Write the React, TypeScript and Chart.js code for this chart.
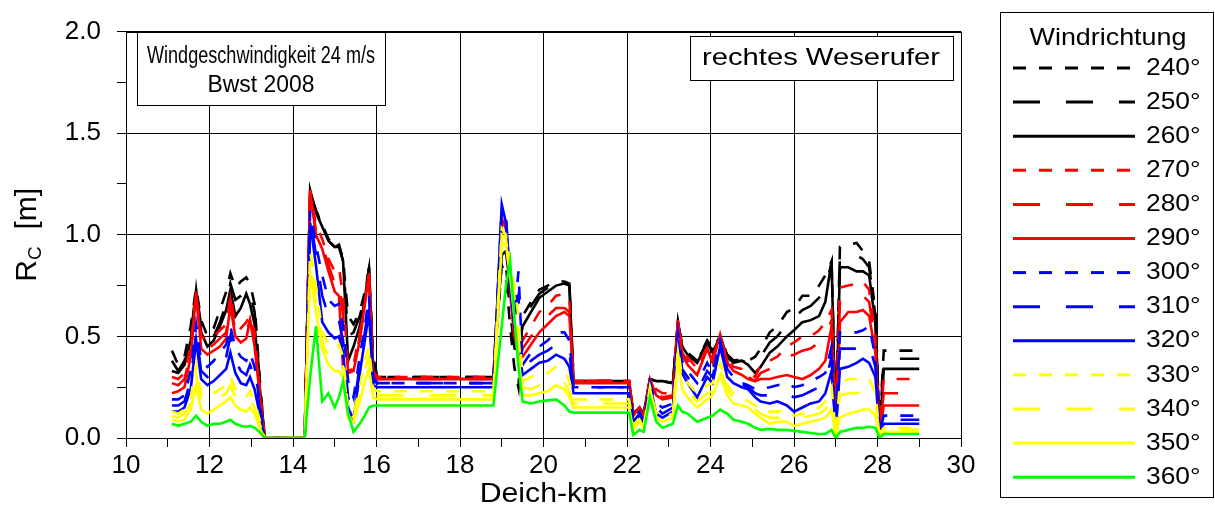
import React, { useEffect, useRef } from 'react';
import { Chart, registerables } from 'chart.js';

Chart.register(...registerables);

// ---- data ----
const km = [
  11.1, 11.25, 11.4, 11.55, 11.68, 11.8, 11.95, 12.1, 12.25, 12.4, 12.5, 12.62, 12.75, 12.88, 12.97, 13.08, 13.2, 13.32,
  14.28,
  14.41, 14.55, 14.7, 14.85, 15.0, 15.1, 15.2, 15.32, 15.45, 15.6, 15.72, 15.82, 15.92, 16.02,
  18.8,
  19.0, 19.1, 19.2, 19.3, 19.4, 19.5, 19.7, 19.9, 20.1, 20.3, 20.5, 20.62, 20.72,
  22.05,
  22.15, 22.3, 22.4, 22.55, 22.7, 22.85, 23.1, 23.22, 23.32, 23.45, 23.68, 23.92, 24.05, 24.23, 24.4, 24.55, 24.75, 24.9, 25.07,
  25.2, 25.42, 25.6, 25.83, 26.0, 26.2, 26.4, 26.6, 26.75, 26.9, 27.0, 27.1, 27.3, 27.5, 27.65, 27.8, 27.95, 28.05, 28.15, 29.0,
];

const rc240 = [
  0.43, 0.36, 0.40, 0.55, 0.74, 0.58, 0.50, 0.54, 0.63, 0.72, 0.81, 0.74, 0.77, 0.79, 0.76, 0.66, 0.30, 0,
  0,
  1.20, 1.12, 1.05, 0.98, 0.93, 0.95, 0.88, 0.60, 0.56, 0.62, 0.72, 0.83, 0.40, 0.30,
  0.30,
  0.85, 0.80, 0.55, 0.35, 0.25, 0.60, 0.67, 0.73, 0.75, 0.77, 0.77, 0.76, 0.28,
  0.28,
  0.12, 0.15, 0.12, 0.29, 0.28, 0.28, 0.27, 0.57, 0.46, 0.42, 0.38, 0.48, 0.44, 0.50, 0.41, 0.38, 0.39, 0.38, 0.40,
  0.44, 0.52, 0.55, 0.62, 0.64, 0.70, 0.70, 0.75, 0.80, 0.87, 0.05, 0.94, 0.95, 0.96, 0.92, 0.87, 0.62, 0.05, 0.43, 0.43,
];
const rc250 = [
  0.38, 0.33, 0.38, 0.50, 0.73, 0.55, 0.47, 0.50, 0.57, 0.66, 0.76, 0.68, 0.70, 0.74, 0.72, 0.62, 0.28, 0,
  0,
  1.21, 1.12, 1.04, 0.97, 0.94, 0.95, 0.87, 0.50, 0.52, 0.60, 0.70, 0.83, 0.36, 0.30,
  0.30,
  0.88, 0.85, 0.62, 0.45, 0.35, 0.58, 0.65, 0.71, 0.74, 0.76, 0.77, 0.76, 0.28,
  0.28,
  0.12, 0.15, 0.12, 0.29, 0.28, 0.28, 0.27, 0.57, 0.45, 0.42, 0.38, 0.47, 0.43, 0.50, 0.41, 0.38, 0.38, 0.37, 0.36,
  0.40, 0.47, 0.50, 0.56, 0.59, 0.63, 0.65, 0.69, 0.74, 0.86, 0.04, 0.90, 0.90, 0.90, 0.88, 0.84, 0.60, 0.04, 0.39, 0.39,
];
const rc260 = [
  0.33, 0.32, 0.36, 0.48, 0.73, 0.52, 0.45, 0.48, 0.55, 0.63, 0.73, 0.60, 0.64, 0.71, 0.66, 0.56, 0.26, 0,
  0,
  1.22, 1.11, 1.04, 0.97, 0.94, 0.94, 0.87, 0.38, 0.45, 0.55, 0.68, 0.84, 0.32, 0.29,
  0.29,
  0.90, 0.92, 0.75, 0.55, 0.44, 0.55, 0.62, 0.69, 0.72, 0.75, 0.76, 0.75, 0.28,
  0.28,
  0.12, 0.15, 0.12, 0.29, 0.28, 0.28, 0.27, 0.57, 0.45, 0.41, 0.37, 0.47, 0.42, 0.50, 0.40, 0.37, 0.38, 0.36, 0.32,
  0.35, 0.42, 0.45, 0.50, 0.53, 0.57, 0.58, 0.60, 0.67, 0.87, 0.01, 0.84, 0.84, 0.82, 0.82, 0.80, 0.56, 0.02, 0.34, 0.34,
];
const rc270 = [
  0.30, 0.29, 0.32, 0.45, 0.71, 0.50, 0.48, 0.50, 0.53, 0.56, 0.70, 0.56, 0.54, 0.57, 0.60, 0.52, 0.25, 0,
  0,
  1.21, 1.05, 0.98, 0.88, 0.82, 0.84, 0.70, 0.35, 0.36, 0.52, 0.66, 0.80, 0.33, 0.30,
  0.30,
  1.05, 1.00, 0.80, 0.55, 0.42, 0.48, 0.55, 0.62, 0.65, 0.70, 0.71, 0.68, 0.28,
  0.28,
  0.12, 0.15, 0.11, 0.29, 0.24, 0.22, 0.22, 0.58, 0.44, 0.40, 0.34, 0.45, 0.40, 0.50, 0.39, 0.35, 0.34, 0.32, 0.30,
  0.36, 0.38, 0.40, 0.45, 0.47, 0.50, 0.50, 0.53, 0.57, 0.63, 0.06, 0.74, 0.75, 0.76, 0.77, 0.73, 0.50, 0.05, 0.29, 0.29,
];
const rc280 = [
  0.27, 0.26, 0.29, 0.42, 0.70, 0.47, 0.44, 0.46, 0.49, 0.52, 0.68, 0.52, 0.50, 0.52, 0.58, 0.48, 0.24, 0,
  0,
  1.21, 1.02, 0.95, 0.85, 0.76, 0.78, 0.60, 0.33, 0.34, 0.50, 0.65, 0.80, 0.31, 0.29,
  0.29,
  1.06, 1.02, 0.75, 0.50, 0.40, 0.44, 0.50, 0.56, 0.60, 0.64, 0.64, 0.62, 0.28,
  0.28,
  0.11, 0.15, 0.10, 0.29, 0.22, 0.20, 0.21, 0.58, 0.42, 0.38, 0.32, 0.44, 0.38, 0.50, 0.38, 0.34, 0.32, 0.30, 0.28,
  0.32, 0.34, 0.35, 0.40, 0.41, 0.43, 0.44, 0.47, 0.50, 0.58, 0.05, 0.67, 0.68, 0.70, 0.70, 0.67, 0.46, 0.04, 0.22, 0.22,
];
const rc290 = [
  0.22, 0.23, 0.25, 0.40, 0.72, 0.44, 0.41, 0.43, 0.45, 0.49, 0.65, 0.50, 0.47, 0.49, 0.58, 0.45, 0.22, 0,
  0,
  1.22, 1.00, 0.93, 0.82, 0.72, 0.70, 0.34, 0.32, 0.33, 0.48, 0.66, 0.81, 0.30, 0.29,
  0.29,
  1.08, 1.03, 0.72, 0.50, 0.42, 0.40, 0.46, 0.52, 0.56, 0.60, 0.62, 0.60, 0.27,
  0.27,
  0.11, 0.15, 0.10, 0.29, 0.21, 0.19, 0.20, 0.58, 0.41, 0.36, 0.31, 0.44, 0.37, 0.51, 0.37, 0.33, 0.31, 0.29, 0.28,
  0.29, 0.29, 0.30, 0.31, 0.30, 0.29, 0.31, 0.34, 0.38, 0.55, 0.05, 0.57, 0.62, 0.62, 0.63, 0.60, 0.42, 0.03, 0.16, 0.16,
];
const rc300 = [
  0.19, 0.19, 0.21, 0.33, 0.56, 0.38, 0.35, 0.38, 0.42, 0.46, 0.55, 0.44, 0.40, 0.38, 0.42, 0.35, 0.18, 0,
  0,
  1.12, 0.95, 0.80, 0.68, 0.65, 0.66, 0.55, 0.28, 0.20, 0.40, 0.55, 0.70, 0.30, 0.27,
  0.27,
  1.12, 1.08, 0.80, 0.60, 0.82, 0.36, 0.42, 0.45, 0.48, 0.52, 0.52, 0.48, 0.25,
  0.25,
  0.09, 0.13, 0.08, 0.27, 0.17, 0.15, 0.17, 0.52, 0.38, 0.33, 0.27, 0.37, 0.32, 0.48, 0.34, 0.30, 0.27, 0.26, 0.24,
  0.24, 0.25, 0.26, 0.27, 0.25, 0.26, 0.28, 0.30, 0.32, 0.45, 0.04, 0.52, 0.52, 0.52, 0.53, 0.55, 0.40, 0.03, 0.11, 0.11,
];
const rc310 = [
  0.16, 0.16, 0.18, 0.28, 0.52, 0.33, 0.30, 0.32, 0.36, 0.40, 0.50, 0.38, 0.33, 0.31, 0.36, 0.30, 0.15, 0,
  0,
  1.09, 0.90, 0.70, 0.60, 0.56, 0.58, 0.48, 0.20, 0.14, 0.36, 0.52, 0.66, 0.28, 0.27,
  0.27,
  1.13, 1.08, 0.78, 0.58, 0.70, 0.33, 0.38, 0.41, 0.43, 0.46, 0.45, 0.42, 0.25,
  0.25,
  0.08, 0.12, 0.07, 0.27, 0.15, 0.12, 0.15, 0.50, 0.34, 0.30, 0.23, 0.33, 0.30, 0.47, 0.32, 0.29, 0.26, 0.25, 0.22,
  0.21, 0.21, 0.22, 0.22, 0.20, 0.21, 0.23, 0.25, 0.27, 0.40, 0.03, 0.44, 0.44, 0.44, 0.45, 0.46, 0.35, 0.03, 0.09, 0.09,
];
const rc320 = [
  0.13, 0.13, 0.15, 0.24, 0.48, 0.29, 0.26, 0.28, 0.31, 0.34, 0.42, 0.32, 0.27, 0.26, 0.30, 0.24, 0.12, 0,
  0,
  1.06, 0.85, 0.57, 0.52, 0.49, 0.50, 0.42, 0.15, 0.09, 0.32, 0.48, 0.62, 0.26, 0.25,
  0.25,
  1.15, 1.06, 0.75, 0.55, 0.45, 0.31, 0.34, 0.37, 0.38, 0.41, 0.39, 0.35, 0.22,
  0.22,
  0.07, 0.11, 0.06, 0.26, 0.12, 0.10, 0.13, 0.48, 0.32, 0.27, 0.20, 0.30, 0.27, 0.45, 0.30, 0.27, 0.25, 0.24, 0.20,
  0.18, 0.17, 0.18, 0.16, 0.13, 0.15, 0.17, 0.18, 0.22, 0.33, 0.03, 0.34, 0.35, 0.37, 0.39, 0.37, 0.30, 0.02, 0.07, 0.07,
];
const rc330 = [
  0.13, 0.12, 0.14, 0.20, 0.36, 0.22, 0.20, 0.22, 0.24, 0.26, 0.30, 0.24, 0.21, 0.20, 0.23, 0.18, 0.09, 0,
  0,
  0.92, 0.75, 0.52, 0.46, 0.44, 0.46, 0.40, 0.14, 0.12, 0.25, 0.38, 0.45, 0.24, 0.23,
  0.23,
  1.03, 1.00, 0.85, 0.75, 0.60, 0.28, 0.30, 0.32, 0.32, 0.35, 0.33, 0.28, 0.19,
  0.19,
  0.06, 0.10, 0.06, 0.25, 0.12, 0.10, 0.12, 0.44, 0.30, 0.27, 0.22, 0.26, 0.27, 0.37, 0.26, 0.22, 0.20, 0.18, 0.16,
  0.14, 0.13, 0.13, 0.14, 0.11, 0.12, 0.13, 0.15, 0.18, 0.25, 0.02, 0.27, 0.29, 0.29, 0.30, 0.29, 0.22, 0.02, 0.05, 0.05,
];
const rc340 = [
  0.11, 0.10, 0.12, 0.17, 0.31, 0.18, 0.16, 0.18, 0.20, 0.22, 0.26, 0.20, 0.17, 0.16, 0.19, 0.15, 0.07, 0,
  0,
  0.86, 0.68, 0.47, 0.40, 0.38, 0.40, 0.35, 0.12, 0.10, 0.22, 0.34, 0.40, 0.22, 0.21,
  0.21,
  1.00, 0.98, 0.82, 0.70, 0.50, 0.25, 0.24, 0.26, 0.27, 0.29, 0.27, 0.23, 0.17,
  0.17,
  0.05, 0.09, 0.05, 0.24, 0.11, 0.09, 0.11, 0.42, 0.27, 0.23, 0.18, 0.22, 0.23, 0.34, 0.24, 0.20, 0.18, 0.17, 0.14,
  0.12, 0.10, 0.10, 0.11, 0.09, 0.10, 0.11, 0.12, 0.14, 0.20, 0.02, 0.21, 0.22, 0.22, 0.23, 0.22, 0.18, 0.01, 0.04, 0.04,
];
const rc350 = [
  0.09, 0.08, 0.09, 0.14, 0.26, 0.14, 0.12, 0.14, 0.16, 0.18, 0.20, 0.16, 0.14, 0.13, 0.15, 0.12, 0.05, 0,
  0,
  0.82, 0.62, 0.44, 0.36, 0.33, 0.33, 0.30, 0.10, 0.08, 0.18, 0.28, 0.34, 0.20, 0.19,
  0.19,
  0.96, 0.95, 0.80, 0.60, 0.40, 0.21, 0.21, 0.22, 0.23, 0.26, 0.24, 0.20, 0.15,
  0.15,
  0.04, 0.08, 0.05, 0.23, 0.10, 0.08, 0.10, 0.40, 0.24, 0.20, 0.15, 0.19, 0.21, 0.31, 0.21, 0.17, 0.16, 0.15, 0.12,
  0.10, 0.07, 0.08, 0.08, 0.06, 0.07, 0.08, 0.09, 0.10, 0.14, 0.01, 0.10, 0.12, 0.13, 0.14, 0.14, 0.11, 0.01, 0.03, 0.03,
];
const rc360 = [
  0.07, 0.06, 0.07, 0.08, 0.11, 0.08, 0.06, 0.07, 0.07, 0.08, 0.09, 0.07, 0.06, 0.055, 0.06, 0.05, 0.03, 0,
  0,
  0.30, 0.55, 0.18, 0.22, 0.15, 0.20, 0.28, 0.12, 0.03, 0.07, 0.11, 0.15, 0.16, 0.16,
  0.16,
  0.55, 0.75, 0.87, 0.60, 0.35, 0.18, 0.17, 0.18, 0.185, 0.19, 0.16, 0.13, 0.125,
  0.125,
  0.015, 0.04, 0.03, 0.20, 0.08, 0.05, 0.07, 0.16, 0.13, 0.12, 0.08, 0.10, 0.11, 0.14, 0.12, 0.09, 0.08, 0.07, 0.05,
  0.04, 0.045, 0.04, 0.04, 0.035, 0.03, 0.025, 0.02, 0.02, 0.04, 0.0, 0.03, 0.04, 0.05, 0.05, 0.055, 0.05, 0.0, 0.02, 0.02,
];

const seriesValues = [rc240, rc250, rc260, rc270, rc280, rc290, rc300, rc310, rc320, rc330, rc340, rc350, rc360];
const directionLabels = ['240°', '250°', '260°', '270°', '280°', '290°', '300°', '310°', '320°', '330°', '340°', '350°', '360°'];

const xTickLabels = ['10', '12', '14', '16', '18', '20', '22', '24', '26', '28', '30'];
const yTickLabels = ['0.0', '0.5', '1.0', '1.5', '2.0'];

const X_TITLE = 'Deich-km';
const Y_TITLE = 'R';
const Y_TITLE_SUB = 'C';
const Y_TITLE_UNIT = '[m]';
const LEGEND_TITLE = 'Windrichtung';
const INFO_LEFT = ['Windgeschwindigkeit 24 m/s', 'Bwst 2008'];
const INFO_RIGHT = 'rechtes Weserufer';

// ---- styles ----
const seriesColors = [
  '#000000', '#000000', '#000000',
  '#ff0000', '#ff0000', '#ff0000',
  '#0000ff', '#0000ff', '#0000ff',
  '#ffff00', '#ffff00', '#ffff00',
  '#00ff00',
];
const SHORT = [13, 13];
const LONG = [27, 26];
const seriesDashes = [SHORT, LONG, [], SHORT, LONG, [], SHORT, LONG, [], SHORT, LONG, [], []];

const FONT = '"Liberation Sans", Arial, sans-serif';

function drawFittedText(ctx: CanvasRenderingContext2D, text: string, x: number, y: number, size: number, align: string, sx: number, width?: number) {
  ctx.save();
  ctx.font = `${size}px ${FONT}`;
  ctx.textBaseline = 'middle';
  ctx.textAlign = 'left';
  const raw = ctx.measureText(text).width;
  const scaleX = width ? width / raw : sx;
  const w = raw * scaleX;
  const left = align === 'center' ? x - w / 2 : align === 'right' ? x - w : x;
  ctx.translate(left, y);
  ctx.scale(scaleX, 1);
  ctx.fillStyle = '#000';
  ctx.fillText(text, 0, 0);
  ctx.restore();
}

const decorPlugin = {
  id: 'decor',
  afterDatasetsDraw(chart: any) {
    const ctx: CanvasRenderingContext2D = chart.ctx;
    const a = chart.chartArea;
    ctx.save();
    ctx.strokeStyle = '#000';
    ctx.lineWidth = 1;
    ctx.setLineDash([]);
    ctx.strokeRect(Math.round(a.left) + 0.5, Math.round(a.top) + 0.5, Math.round(a.right - a.left), Math.round(a.bottom - a.top));

    // info boxes
    ctx.fillStyle = '#fff';
    ctx.fillRect(137, 32, 248, 73);
    ctx.strokeRect(137.5, 32.5, 248, 73);
    drawFittedText(ctx, INFO_LEFT[0], 261, 57, 23, 'center', 1, 228);
    drawFittedText(ctx, INFO_LEFT[1], 261, 86, 23, 'center', 1, 107);

    ctx.fillStyle = '#fff';
    ctx.fillRect(690, 36, 263, 44);
    ctx.strokeRect(690.5, 36.5, 263, 44);
    drawFittedText(ctx, INFO_RIGHT, 821, 58, 24, 'center', 1, 238);
    ctx.restore();
  },
  afterDraw(chart: any) {
    const ctx: CanvasRenderingContext2D = chart.ctx;
    const a = chart.chartArea;
    ctx.save();
    ctx.translate(28, (a.top + a.bottom) / 2);
    ctx.rotate(-Math.PI / 2);
    ctx.fillStyle = '#000';
    ctx.textBaseline = 'middle';
    ctx.textAlign = 'left';
    ctx.font = `30px ${FONT}`;
    const wR = ctx.measureText(Y_TITLE).width;
    const wGap = ctx.measureText('  ').width;
    const wU = ctx.measureText(Y_TITLE_UNIT).width;
    ctx.font = `19px ${FONT}`;
    const wC = ctx.measureText(Y_TITLE_SUB).width;
    const total = wR + wC + wGap + wU;
    let cx = -total / 2;
    ctx.font = `30px ${FONT}`;
    ctx.fillText(Y_TITLE, cx, 0);
    cx += wR;
    ctx.font = `19px ${FONT}`;
    ctx.fillText(Y_TITLE_SUB, cx, 8);
    cx += wC + wGap;
    ctx.font = `30px ${FONT}`;
    ctx.fillText(Y_TITLE_UNIT, cx, 0);
    ctx.restore();

    drawFittedText(ctx, X_TITLE, (a.left + a.right) / 2, 494, 28, 'center', 1.08);

    // legend
    ctx.save();
    ctx.strokeStyle = '#000';
    ctx.lineWidth = 1;
    ctx.setLineDash([]);
    ctx.strokeRect(1000.5, 12.5, 213, 485);
    drawFittedText(ctx, LEGEND_TITLE, 1108, 38, 24, 'center', 1.12);
    directionLabels.forEach((lab, i) => {
      const y = 68 + i * 34.1;
      ctx.save();
      ctx.strokeStyle = seriesColors[i];
      ctx.lineWidth = 3;
      ctx.setLineDash(seriesDashes[i]);
      ctx.beginPath();
      ctx.moveTo(1013, y);
      ctx.lineTo(1135, y);
      ctx.stroke();
      ctx.restore();
      drawFittedText(ctx, lab, 1146, y, 24, 'left', 1.1);
    });
    ctx.restore();
  },
};

export default function App() {
  const ref = useRef<HTMLCanvasElement | null>(null);

  useEffect(() => {
    document.body.style.margin = '0';
    document.body.style.background = '#fff';
    const canvas = ref.current;
    if (!canvas) return;
    Chart.defaults.font.family = FONT;

    const datasets = seriesValues.map((vals, i) => ({
      label: directionLabels[i],
      data: km.map((x, j) => ({ x, y: vals[j] })),
      borderColor: seriesColors[i],
      backgroundColor: seriesColors[i],
      borderWidth: 2.6,
      borderDash: seriesDashes[i],
      pointRadius: 0,
      tension: 0,
      fill: false,
      order: seriesValues.length - 1 - i,
    }));

    const chart = new Chart(canvas, {
      type: 'line',
      data: { datasets },
      plugins: [decorPlugin],
      options: {
        animation: false,
        responsive: false,
        maintainAspectRatio: false,
        layout: { padding: { left: 0, right: 254, top: 23, bottom: 0 } },
        plugins: { legend: { display: false }, tooltip: { enabled: false }, title: { display: false } },
        scales: {
          x: {
            type: 'linear',
            min: 10,
            max: 30,
            afterFit: (s: any) => { s.height = 80; },
            afterBuildTicks: (s: any) => {
              const t = [];
              for (let v = 10; v <= 30; v += 1) t.push({ value: v });
              s.ticks = t;
            },
            ticks: {
              autoSkip: false,
              maxRotation: 0,
              padding: 3,
              color: '#000',
              font: { size: 26, family: FONT },
              callback: (v: any) => (v % 2 === 0 ? xTickLabels[(v - 10) / 2] : ''),
            },
            grid: {
              color: (c: any) => (c.tick && c.tick.value % 2 === 0 ? '#000' : 'rgba(0,0,0,0)'),
              tickColor: '#000',
              tickLength: 9,
              lineWidth: 1,
            },
            border: { display: true, color: '#000', width: 1 },
          },
          y: {
            type: 'linear',
            min: 0,
            max: 2,
            afterFit: (s: any) => { s.width = 126; },
            afterBuildTicks: (s: any) => {
              const t = [];
              for (let k = 0; k <= 8; k += 1) t.push({ value: k * 0.25 });
              s.ticks = t;
            },
            ticks: {
              autoSkip: false,
              padding: 16,
              color: '#000',
              font: { size: 26, family: FONT },
              callback: (v: any) => {
                const k = Math.round(v * 4);
                return k % 2 === 0 ? yTickLabels[k / 2] : '';
              },
            },
            grid: {
              color: (c: any) => (c.tick && Math.round(c.tick.value * 4) % 2 === 0 ? '#000' : 'rgba(0,0,0,0)'),
              tickColor: '#000',
              tickLength: 9,
              lineWidth: 1,
            },
            border: { display: true, color: '#000', width: 1 },
          },
        },
      },
    });
    return () => chart.destroy();
  }, []);

  return (
    <div style={{ width: 1215, height: 518, position: 'relative', background: '#fff' }}>
      <canvas ref={ref} width={1215} height={518} style={{ display: 'block', width: 1215, height: 518 }} />
    </div>
  );
}
